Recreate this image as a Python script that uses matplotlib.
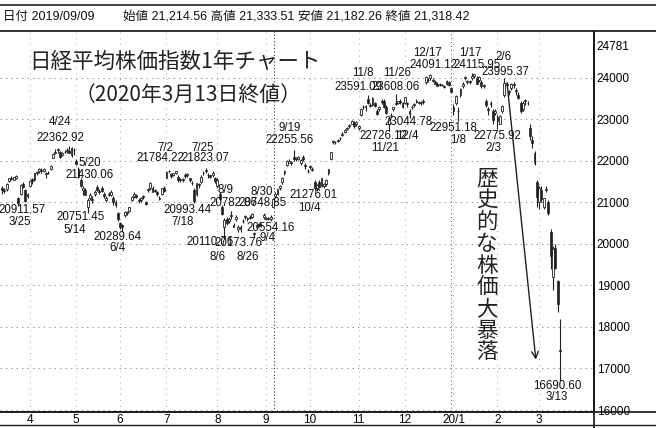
import matplotlib
matplotlib.use("Agg")
import matplotlib.pyplot as plt
from matplotlib.lines import Line2D
import pandas as pd
import numpy as np

# trading days (Tokyo), 2019-03-13 .. 2020-03-13
holidays = ["2019-03-21", "2019-04-29", "2019-04-30", "2019-05-01", "2019-05-02",
            "2019-05-03", "2019-05-06", "2019-07-15", "2019-08-12", "2019-09-16",
            "2019-09-23", "2019-10-14", "2019-10-22", "2019-11-04", "2019-12-31",
            "2020-01-01", "2020-01-02", "2020-01-03", "2020-01-13", "2020-02-11",
            "2020-02-24"]
dates = pd.bdate_range("2019-03-13", "2020-03-13", freq="C", holidays=holidays)

opens = [21350, 21300, 21320, 21520, 21600, 21550, 21600, 21110, 21200, 21450, 21300, 21150,
         21400, 21560, 21550, 21700, 21750, 21780, 21760, 21720, 21700, 21800, 22080, 22200, 22260, 22220, 22150, 22220, 22250, 22250, 22150, 22270,
         22000, 21800, 21550, 21300, 21300, 20900, 21100, 21080, 21200, 21380, 21250, 21350, 21200, 21050, 21200, 21180, 21100, 21000, 20750,
         20500, 20450, 20700, 20750, 20800, 21050, 21150, 21180, 21050, 21050, 21150, 21000, 21300, 21350, 21350, 21300, 21240, 21100, 21200, 21350,
         21600, 21750, 21680, 21650, 21720, 21620, 21550, 21560, 21650, 21650, 21580, 21480, 21300, 21200, 21450, 21500, 21700, 21780, 21650, 21650, 21650, 21600,
         21400, 21200, 20900, 20400, 20600, 20550, 20700, 20400, 20600, 20350, 20350, 20550, 20650, 20600, 20650, 20650, 20250, 20400, 20450, 20450, 20650,
         20600, 20600, 20600, 20900, 21150, 21214.56, 21350, 21500, 21700, 21900, 21950, 21980, 22100, 22050, 22050, 21950, 22100, 21900, 21750,
         21850, 21800, 21500, 21350, 21500, 21400, 21400, 21450, 21700, 22050, 22450, 22450, 22500, 22550, 22650, 22700, 22780, 22850, 22900, 22900, 22900,
         22800, 23100, 23300, 23300, 23500, 23350, 23350, 23400, 23200, 23250, 23450, 23450, 23300, 22900, 23100, 23250, 23400, 23400, 23450, 23400,
         23400, 23400, 23200, 23300, 23350, 23450, 23400, 23400, 23450, 23900, 23950, 24000, 23950, 23900, 23850, 23850, 23830, 23800, 23850, 23900, 23750,
         23300, 23400, 23200, 23600, 23800, 24000, 23900, 23900, 24000, 24050, 24000, 23950, 23900, 23800, 23450, 23250, 23400, 23200, 23150,
         23050, 22900, 23200, 23600, 23850, 23650, 23750, 23850, 23700, 23600, 23400, 23250, 23450, 23400, 22800, 22500, 22200, 21500,
         21000, 21300, 20900, 21300, 21000, 20300, 19200, 19900, 19100, 17450]
highs = [21400, 21350, 21480, 21600, 21640, 21620, 21650, 21130, 21450, 21500, 21320, 21220,
         21530, 21590, 21720, 21750, 21830, 21820, 21820, 21730, 21760, 21900, 22180, 22280, 22300, 22240, 22210, 22260, 22300, 22362.92, 22330, 22300,
         22050, 21850, 21600, 21400, 21350, 21100, 21220, 21150, 21300, 21430.06, 21320, 21400, 21250, 21150, 21260, 21300, 21150, 21050, 20780,
         20520, 20480, 20800, 20800, 20900, 21150, 21250, 21200, 21100, 21140, 21180, 21030, 21360, 21500, 21400, 21320, 21270, 21150, 21350, 21400,
         21760, 21784.22, 21700, 21720, 21760, 21650, 21600, 21580, 21700, 21710, 21600, 21520, 21350, 21480, 21480, 21650, 21750, 21823.07, 21700, 21670, 21750, 21620,
         21600, 21250, 20950, 20620, 20650, 20650, 20782.86, 20500, 20700, 20450, 20450, 20600, 20700, 20650, 20700, 20750, 20300, 20480, 20500, 20500, 20748.85,
         20650, 20650, 20700, 21100, 21250, 21333.51, 21420, 21620, 21780, 22020, 22050, 22000, 22255.56, 22100, 22120, 22050, 22150, 21950, 21800,
         21900, 21850, 21550, 21450, 21550, 21600, 21480, 21560, 21800, 22220, 22500, 22480, 22530, 22580, 22700, 22760, 22820, 22900, 22980, 22950, 22950,
         22870, 23260, 23350, 23350, 23591.09, 23400, 23530, 23420, 23250, 23320, 23500, 23500, 23350, 23050, 23150, 23300, 23608.06, 23450, 23480, 23420,
         23540, 23420, 23250, 23350, 23400, 23500, 23450, 23440, 23500, 24050, 24000, 24091.12, 24000, 23950, 23900, 23870, 23850, 23820, 23950, 23920, 23770,
         23370, 23600, 23300, 23750, 23900, 24050, 23950, 23950, 24115.95, 24100, 24050, 24050, 23950, 23850, 23500, 23300, 23450, 23250, 23250,
         23100, 23100, 23350, 23995.37, 23900, 23700, 23880, 23900, 23750, 23650, 23450, 23450, 23500, 23450, 22900, 22600, 22250, 21550,
         21400, 21400, 21100, 21400, 21050, 20350, 19950, 19990, 19140, 18200]
lows = [21200, 21230, 21280, 21500, 21530, 21530, 21560, 20911.57, 21190, 21350, 21020, 21100,
        21380, 21450, 21520, 21660, 21700, 21720, 21740, 21600, 21680, 21780, 22060, 22170, 22200, 22080, 22120, 22180, 22190, 22180, 22100, 22150,
        21900, 21580, 21380, 21180, 21180, 20751.45, 21050, 20980, 21150, 21280, 21200, 21250, 21100, 21000, 21150, 21150, 20950, 20900, 20550,
        20350, 20289.64, 20650, 20700, 20760, 21030, 21100, 21100, 20980, 21000, 21080, 20940, 21250, 21300, 21250, 21240, 21150, 21050, 21180, 21250,
        21580, 21700, 21600, 21630, 21680, 21500, 21500, 21490, 21600, 21620, 21500, 21420, 20993.44, 21150, 21360, 21480, 21650, 21700, 21600, 21580, 21620, 21480,
        21350, 21050, 20700, 20110.76, 20450, 20500, 20600, 20400, 20550, 20300, 20300, 20500, 20600, 20550, 20600, 20620, 20173.76, 20350, 20400, 20400, 20600,
        20580, 20580, 20554.16, 20880, 21100, 21182.26, 21300, 21450, 21650, 21880, 21940, 21900, 22000, 21990, 22020, 21900, 22000, 21800, 21700,
        21800, 21750, 21300, 21276.01, 21350, 21380, 21350, 21400, 21650, 22040, 22400, 22400, 22450, 22500, 22600, 22680, 22740, 22800, 22880, 22800, 22850,
        22750, 23080, 23250, 23200, 23380, 23300, 23320, 23300, 23100, 23200, 23380, 23280, 23120, 22726.12, 23050, 23200, 23350, 23380, 23380, 23280,
        23380, 23300, 23044.78, 23250, 23300, 23400, 23380, 23350, 23380, 23850, 23900, 23950, 23900, 23850, 23800, 23800, 23800, 23750, 23830, 23800, 23650,
        23100, 23350, 22951.18, 23550, 23750, 23950, 23850, 23850, 23950, 24000, 23850, 23900, 23750, 23750, 23300, 23100, 23300, 22900, 23100,
        22775.92, 22880, 23150, 23550, 23750, 23600, 23700, 23750, 23600, 23500, 23150, 23200, 23350, 23350, 22500, 22300, 21900, 20900,
        20850, 21000, 20850, 21250, 20700, 19400, 18900, 19400, 18370, 16690.60]
closes = [21290, 21287, 21450, 21584, 21566, 21608, 21627, 20977, 21428, 21378, 21033, 21205,
          21509, 21505, 21713, 21724, 21807, 21761, 21802, 21687, 21711, 21870, 22169, 22221, 22277, 22090, 22200, 22217, 22259, 22200, 22307, 22258,
          21923, 21602, 21402, 21344, 21191, 21067, 21188, 21062, 21250, 21301, 21272, 21283, 21151, 21117, 21182, 21260, 21003, 20942, 20601,
          20410, 20408, 20776, 20774, 20884, 21134, 21204, 21129, 21032, 21116, 21124, 20972, 21333, 21462, 21258, 21285, 21193, 21086, 21338, 21275,
          21729, 21754, 21638, 21702, 21746, 21534, 21565, 21533, 21643, 21685, 21535, 21469, 21046, 21466, 21416, 21620, 21709, 21756, 21658, 21616, 21709, 21521,
          21540, 21087, 20720, 20585, 20516, 20593, 20684, 20455, 20655, 20405, 20418, 20563, 20677, 20618, 20628, 20710, 20261, 20456, 20479, 20460, 20704,
          20620, 20625, 20649, 21085, 21199, 21318.42, 21392, 21597, 21759, 21988, 22001, 21960, 22044, 22079, 22098, 22020, 22048, 21878, 21755,
          21885, 21778, 21341, 21410, 21375, 21587, 21456, 21551, 21798, 22207, 22472, 22451, 22492, 22548, 22625, 22750, 22799, 22867, 22974, 22843, 22927,
          22850, 23251, 23303, 23330, 23391, 23331, 23520, 23319, 23141, 23303, 23416, 23292, 23148, 23038, 23112, 23292, 23373, 23437, 23409, 23293,
          23529, 23379, 23135, 23300, 23354, 23430, 23410, 23391, 23424, 24023, 23952, 24066, 23934, 23864, 23816, 23821, 23830, 23782, 23924, 23837, 23656,
          23204, 23575, 23204, 23739, 23850, 24025, 23916, 23933, 24041, 24083, 23864, 24031, 23795, 23827, 23343, 23215, 23379, 22977, 23205,
          22971, 23084, 23319, 23873, 23827, 23685, 23861, 23827, 23687, 23523, 23193, 23400, 23479, 23386, 22605, 22426, 21948, 21142,
          21344, 21082, 21100, 21329, 20749, 19698, 19867, 19416, 18559, 17431]

y_ticks = [16000, 17000, 18000, 19000, 20000, 21000, 22000, 23000, 24000, 24781]
month_labels = ["4", "5", "6", "7", "8", "9", "10", "11", "12", "20/1", "2", "3"]

# (text, trading-day position, price level)
notes = [("4/24", 25.1, 22942), ("22362.92", 25.1, 22558),
         ("5/20", 38.0, 21957), ("21430.06", 38.0, 21668),
         ("20911.57", 8.6, 20827), ("3/25", 7.8, 20538),
         ("20751.45", 33.7, 20658), ("5/14", 31.5, 20346),
         ("20289.64", 49.7, 20178), ("6/4", 49.7, 19913),
         ("7/2", 70.4, 22317), ("21784.22", 68.3, 22077),
         ("7/25", 86.8, 22317), ("21823.07", 87.7, 22077),
         ("20993.44", 79.9, 20827), ("7/18", 78.2, 20538),
         ("8/9", 96.3, 21308), ("20782.86", 99.8, 20995),
         ("8/30", 112.3, 21260), ("20748.85", 112.3, 20995),
         ("20554.16", 115.8, 20394), ("9/4", 114.5, 20154),
         ("20110.76", 89.8, 20058), ("20173.76", 101.9, 20034),
         ("8/6", 92.9, 19697), ("8/26", 106.3, 19697),
         ("9/19", 124.4, 22798), ("22255.56", 124.4, 22510),
         ("21276.01", 134.3, 21187), ("10/4", 133.0, 20875),
         ("11/8", 155.9, 24120), ("11/26", 170.6, 24120),
         ("23591.09", 153.8, 23784), ("23608.06", 169.8, 23784),
         ("12/17", 184.0, 24601), ("24091.12", 186.2, 24313),
         ("1/17", 202.2, 24601), ("24115.95", 205.2, 24313),
         ("2/6", 216.4, 24505), ("23995.37", 217.3, 24144),
         ("23044.78", 175.4, 22942), ("22726.12", 164.6, 22606),
         ("12/4", 174.9, 22606), ("11/21", 165.4, 22317),
         ("22951.18", 194.8, 22798), ("1/8", 197.0, 22510),
         ("22775.92", 213.8, 22606), ("2/3", 212.1, 22317),
         ("16690.60", 239.7, 16572), ("3/13", 239.7, 16307)]

num_font = ["Liberation Sans", "Noto Sans CJK JP"]
jp_font = ["Noto Sans CJK JP", "DejaVu Sans"]

fig = plt.figure(figsize=(6.56, 4.28), dpi=100)
ax = fig.add_axes([0, 16 / 428, 594 / 656, 381 / 428])

x = np.arange(len(dates))
o = np.array(opens); h = np.array(highs); l = np.array(lows); c = np.array(closes)

ax.vlines(x, l, h, color="#222222", lw=0.8, zorder=3)
up = c >= o
body = np.maximum(np.abs(c - o), 10)
ax.bar(x[up], body[up], bottom=np.minimum(o, c)[up], width=0.8,
       color="white", edgecolor="#222222", lw=0.6, zorder=4)
ax.bar(x[~up], body[~up], bottom=np.minimum(o, c)[~up], width=0.8,
       color="#222222", edgecolor="#222222", lw=0.5, zorder=4)

ax.set_xlim(-0.9, 255.7)
ax.set_ylim(15952, 25130)

# grid
for v in y_ticks[:-1]:
    ax.axhline(v, color="#777777", lw=0.6, ls=(0, (1.5, 5)), zorder=1)
month_pos = [i for i in range(1, len(dates)) if dates[i].month != dates[i - 1].month]
for p in month_pos:
    ax.axvline(p, color="#888888", lw=0.6, ls=(0, (1, 6)), zorder=1)
cursor = list(dates).index(pd.Timestamp("2019-09-09"))
ax.axvline(cursor - 1.5, color="#333333", lw=0.8, ls=(0, (1, 2)), zorder=1)
ax.axvline(month_pos[9] - 1, color="#555555", lw=0.7, ls=(0, (1, 3)), zorder=1)

ax.set_xticks(month_pos, month_labels)
ax.yaxis.tick_right()
ax.set_yticks(y_ticks, [str(v) for v in y_ticks])
ax.tick_params(axis="x", length=0, pad=1.5, labelsize=8.5)
ax.tick_params(axis="y", length=0, pad=2, labelsize=8.5)
for t in ax.get_xticklabels() + ax.get_yticklabels():
    t.set_family(num_font)
for t in ax.get_yticklabels():
    t.set_ha("left")
for s in ["left", "top"]:
    ax.spines[s].set_visible(False)
ax.spines["right"].set_linewidth(1.3)
ax.spines["bottom"].set_linewidth(1.3)

for txt, px, py in notes:
    ax.text(px, py, txt, ha="center", va="center", fontsize=8.3,
            family=num_font, color="#111111", zorder=5)

# titles
ax.text(0.295, 0.919, "日経平均株価指数1年チャート", transform=ax.transAxes,
        ha="center", va="center", fontsize=15.5, family=jp_font, color="#222222")
ax.text(0.316, 0.832, "（2020年3月13日終値）", transform=ax.transAxes,
        ha="center", va="center", fontsize=15, family=jp_font, color="#222222")
ax.text(209.5, 19480, "\n".join("歴史的な株価大暴落"), ha="center", va="center",
        fontsize=15.5, family=jp_font, linespacing=0.98, color="#222222", zorder=6)
ax.annotate("", xy=(230.7, 17145), xytext=(218, 23950),
            arrowprops=dict(arrowstyle="->", color="#222222", lw=1.0,
                            mutation_scale=12), zorder=6)

# header and frame lines
fig.text(3 / 656, 1 - 17 / 428, "日付 2019/09/09", ha="left", va="center",
         fontsize=9, family=num_font, color="#111111")
fig.text(123 / 656, 1 - 17 / 428,
         "始値 21,214.56 高値 21,333.51 安値 21,182.26 終値 21,318.42",
         ha="left", va="center", fontsize=9, family=num_font, color="#111111")
fig.add_artist(Line2D([0, 1], [1 - 5 / 428, 1 - 5 / 428], color="#222222", lw=1.2))
fig.add_artist(Line2D([0, 1], [1 - 31 / 428, 1 - 31 / 428], color="#222222", lw=1.3))
fig.add_artist(Line2D([0, 1], [1 - 425 / 428, 1 - 425 / 428], color="#222222", lw=1.0))
fig.add_artist(Line2D([594 / 656, 594 / 656], [0, 16 / 428], color="#222222", lw=1.3))
fig.add_artist(Line2D([0, 1], [16 / 428, 16 / 428], color="#222222", lw=1.3))

fig.savefig("out.png", dpi=100, facecolor="white")
